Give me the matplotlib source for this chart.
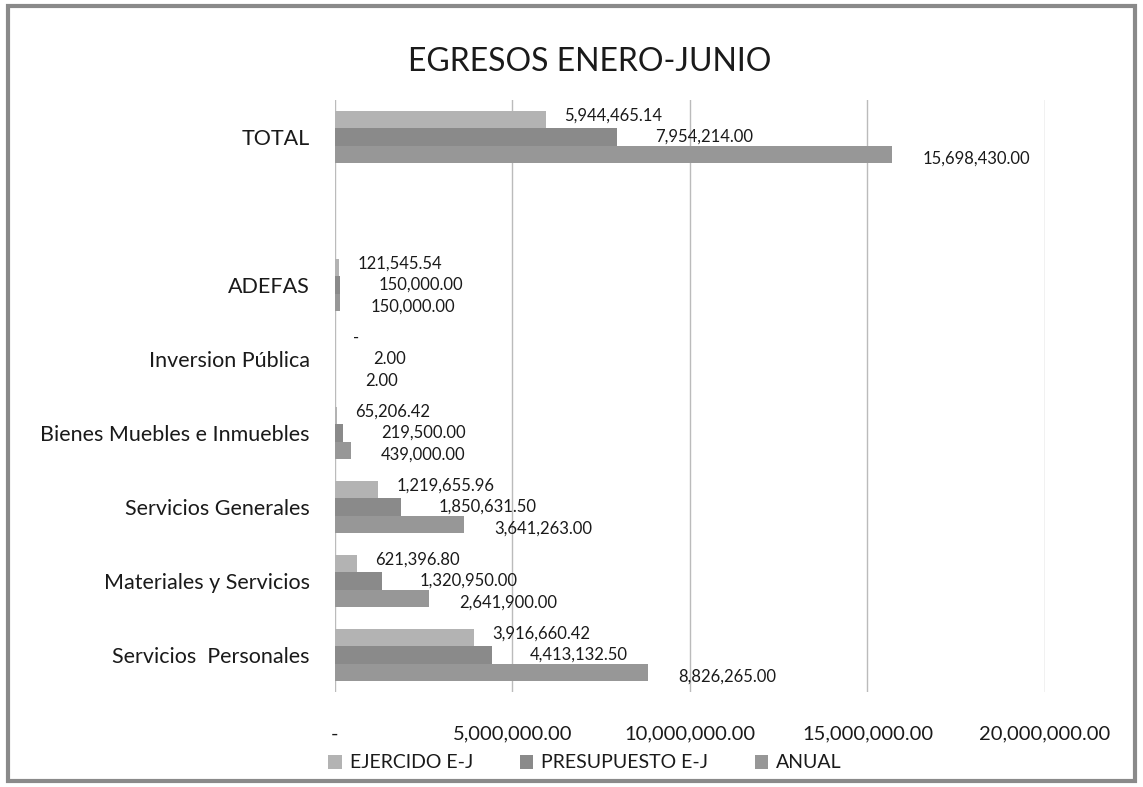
import numpy as np
import matplotlib
matplotlib.use('Agg')
import matplotlib.pyplot as plt
from matplotlib.patches import Rectangle

plt.rcParams['font.family'] = ['Lato', 'DejaVu Sans']

# categories bottom -> top (blank slot between ADEFAS and TOTAL)
categorias = ['Servicios  Personales', 'Materiales y Servicios', 'Servicios Generales',
              'Bienes Muebles e Inmuebles', 'Inversion Pública', 'ADEFAS', 'TOTAL']
posiciones = [0, 1, 2, 3, 4, 5, 7]

ejercido = [3916660.42, 621396.80, 1219655.96, 65206.42, 0.0, 121545.54, 5944465.14]
presupuesto = [4413132.50, 1320950.00, 1850631.50, 219500.00, 2.00, 150000.00, 7954214.00]
anual = [8826265.00, 2641900.00, 3641263.00, 439000.00, 2.00, 150000.00, 15698430.00]

series = ['EJERCIDO E-J', 'PRESUPUESTO E-J', 'ANUAL']
colores = ['#b3b3b3', '#8a8a8a', '#979797']

xticks = [0, 5000000, 10000000, 15000000, 20000000]


def fmt(v):
    if v == 0:
        return '-'
    return '{:,.2f}'.format(v)


fig = plt.figure(figsize=(11.43, 7.87), dpi=100)
ax = fig.add_axes([335 / 1143, 1 - 692 / 787, 710 / 1143, 592 / 787])

h = 0.23
offs = [h, 0, -h]
dx = [18, 38, 30]
dy = [4, 0, -5]
y = np.array(posiciones, dtype=float)
for i, vals in enumerate([ejercido, presupuesto, anual]):
    ax.barh(y + offs[i], vals, height=h, color=colores[i], label=series[i], zorder=3)
    for yy, v in zip(y + offs[i], vals):
        ax.annotate(fmt(v), (v, yy), xytext=(dx[i], dy[i]), textcoords='offset pixels',
                    ha='left', va='center', fontsize=12, color='#1a1a1a')

ax.set_xlim(0, 20000000)
ax.set_ylim(-0.5, 7.5)
ax.set_yticks(posiciones)
ax.set_yticklabels(categorias, fontsize=15.5, color='#1a1a1a')
ax.set_xticks(xticks)
ax.set_xticklabels([fmt(v) for v in xticks], fontsize=14.5, color='#1a1a1a')
ax.tick_params(axis='both', length=0)
ax.tick_params(axis='x', pad=24)
ax.tick_params(axis='y', pad=18)
ax.grid(axis='x', color='#bbbbbb', linewidth=1, zorder=0)
for s in ax.spines.values():
    s.set_visible(False)

fig.suptitle('EGRESOS ENERO-JUNIO', x=590 / 1143, y=1 - 62 / 787, va='center',
             fontsize=23, color='#1a1a1a')

fig.legend(loc='center', bbox_to_anchor=(585 / 1143, 1 - 763 / 787), ncol=3, frameon=False,
           fontsize=14, handlelength=0.7, handleheight=0.7, handletextpad=0.4,
           columnspacing=2.4, labelcolor='#1a1a1a')

fig.patches.append(Rectangle((8 / 1143, 6 / 787), 1127 / 1143, 775 / 787,
                             transform=fig.transFigure, fill=False,
                             edgecolor='#8a8a8a', linewidth=3))

fig.savefig('out.png', dpi=100)
